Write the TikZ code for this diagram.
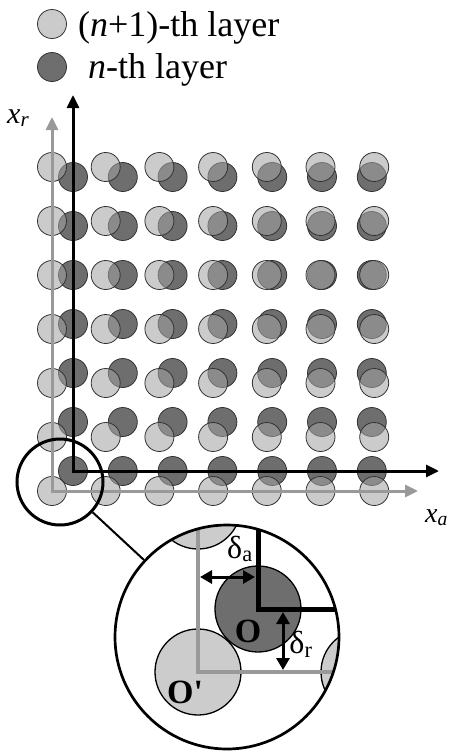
\documentclass[tikz,border=0pt]{standalone}
\usepackage{fontspec}
\setmainfont{Liberation Serif}
\usetikzlibrary{arrows.meta,positioning}
\tikzset{
    lowerdot/.style = {circle, draw=black!80, line width=0.8pt, fill=black!57, minimum size=29pt, inner sep=0pt},
    upperdot/.style = {circle, draw=black!80, line width=0.8pt, fill=black!36, fill opacity=0.56, minimum size=29pt, inner sep=0pt},
    bigdot/.style   = {circle, draw=black, line width=1.3pt, minimum size=86pt, inner sep=0pt},
    axisblack/.style = {line width=3pt, draw=black, {Triangle[length=13pt,width=12pt]}-{Triangle[length=13pt,width=12pt]}},
    axisgray/.style  = {line width=3pt, draw=black!40, {Triangle[length=13pt,width=12pt]}-{Triangle[length=13pt,width=12pt]}},
    lensring/.style = {circle, draw=black, line width=2.7pt, inner sep=0pt},
    gap/.style = {line width=3pt, {Triangle[length=12pt,width=13pt]}-{Triangle[length=12pt,width=13pt]}},
    keytext/.style = {font=\fontsize{36}{40}\selectfont, inner sep=0pt, anchor=base west},
    axlabel/.style = {font=\fontsize{30}{30}\selectfont, inner sep=0pt, anchor=base west},
    glabel/.style = {font=\fontsize{32}{32}\selectfont, inner sep=0pt},
    olabel/.style = {font=\fontsize{34}{34}\selectfont\bfseries, inner sep=0pt}
}

\begin{document}
\begin{tikzpicture}[x=1pt, y=-1pt]
    \useasboundingbox (0,0) rectangle (449,753);

    % --- Legend ---
    \node[upperdot] (key-up) at (52,24) {};
    \node[keytext] (key-up-txt) at (78,36) {(\textit{n}+1)-th layer};
    \node[lowerdot] (key-dn) at (52,67) {};
    \node[keytext] (key-dn-txt) at (88,78) {\textit{n}-th layer};

    % --- Two layers ---
    \foreach \i in {0,...,6}{
        \foreach \j in {0,...,6}{
            \node[lowerdot] (dn-\i-\j) at ({73+49.8*\i},{471-49*\j}) {};
        }
    }
    \foreach \i in {0,...,6}{
        \foreach \j in {0,...,6}{
            \node[upperdot] (up-\i-\j) at ({52+53.7*\i},{491-54*\j}) {};
        }
    }

    % --- Axes ---
    \coordinate (o-up) at (52,491);
    \coordinate (xa-up) at (418,491);
    \coordinate (xr-up) at (52,117);
    \coordinate (o-dn) at (73,471);
    \coordinate (xa-dn) at (439,471);
    \coordinate (xr-dn) at (73,95);
    \draw[axisgray] (xr-up) -- (o-up) -- (xa-up);
    \draw[axisblack] (xr-dn) -- (o-dn) -- (xa-dn);

    \node[axlabel] (lbl-xr) at (7,123) {\textit{x}\textsubscript{\textit{r}}};
    \node[axlabel, font=\fontsize{28}{28}\selectfont] (lbl-xa) at (425,522) {\textit{x}\textsubscript{\textit{a}}};

    % --- Magnified corner ---
    \coordinate (lens-c) at (227,637);
    \begin{scope}
        \clip (lens-c) circle (112);
        \node[bigdot, fill=black!20] (zup-1) at (198,506) {};
        \node[bigdot, fill=black!20] (zup-2) at (364,672) {};
        \node[bigdot, fill=black!20] (zup-0) at (198,672) {};
        \node[bigdot, fill=black!57] (zdn-0) at (258,609) {};

        \coordinate (zo-up) at (198,672);
        \coordinate (zo-dn) at (258,609);
        \coordinate (zr-up) at (198,510);
        \coordinate (za-up) at (360,672);
        \coordinate (zr-dn) at (258,510);
        \coordinate (za-dn) at (360,609);
        \draw[line width=4pt, draw=black!40] (zr-up) -- (zo-up) -- (za-up);
        \draw[line width=5pt, draw=black] (zr-dn) -- (zo-dn) -- (za-dn);
    \end{scope}

    \coordinate (da-l) at (200,577);
    \coordinate (da-r) at (255,577);
    \coordinate (dr-t) at (283,612);
    \coordinate (dr-b) at (283,670);
    \draw[gap] (da-l) -- (da-r);
    \draw[gap] (dr-t) -- (dr-b);

    \node[glabel] (lbl-da) at (240,549) {δ\textsubscript{a}};
    \node[glabel] (lbl-dr) at (301,644) {δ\textsubscript{r}};
    \node[olabel] (lbl-o) at (248,631) {O};
    \node[olabel] (lbl-o1) at (185,692) {O\textquotesingle};

    \node[lensring, minimum size=224pt] (lens) at (lens-c) {};
    \node[lensring, line width=3pt, minimum size=86pt] (spot) at (60,482) {};
    \draw[line width=2pt] (spot) -- (lens);
\end{tikzpicture}
\end{document}
